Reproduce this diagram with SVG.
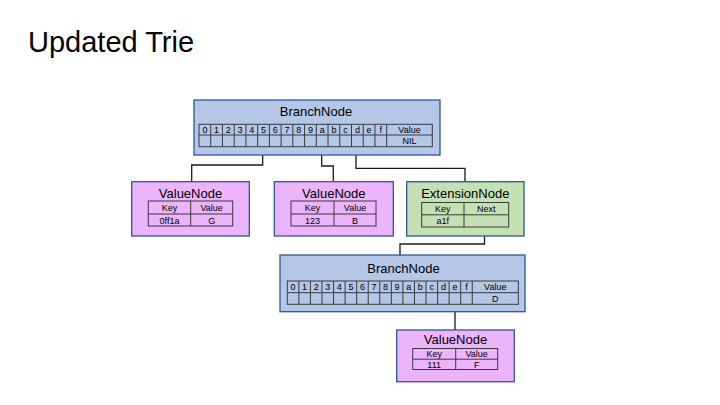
<svg xmlns="http://www.w3.org/2000/svg" width="720" height="405" viewBox="0 0 720 405">
<style>
  text { font-family: "Liberation Sans", Arial, sans-serif; fill: #000; }
  .title { font-size: 29px; }
  .ntitle { font-size: 13px; text-anchor: middle; }
  .cell { font-size: 9px; text-anchor: middle; }
  .branch { fill: #b4c7e7; stroke: #2f5597; stroke-width: 1.3; }
  .value { fill: #ebb4fc; stroke: #2f5597; stroke-width: 1.3; }
  .ext { fill: #c5e0b4; stroke: #2f5597; stroke-width: 1.3; }
  .grid { fill: none; stroke: #3a3a3a; stroke-width: 1; }
  .conn { fill: none; stroke: #1a1a1a; stroke-width: 1.3; }
</style>
<rect width="720" height="405" fill="#ffffff"/>
<text class="title" x="28" y="52">Updated Trie</text>

<g id="connectors">
  <path class="conn" d="M262.7 141 V165 H191.7 V181.7"/>
  <path class="conn" d="M321.7 141 V166 H333.3 V181.7"/>
  <path class="conn" d="M356 141 V168.3 H465 V181.7"/>
  <path class="conn" d="M484.5 221 V244 H400 V255"/>
  <path class="conn" d="M455 300 V330"/>
</g>

<g id="branch1">
  <rect class="branch" x="194" y="100" width="246" height="55"/>
  <text class="ntitle" x="316" y="116">BranchNode</text>
  <rect class="grid" x="199" y="124.3" width="233.3" height="22.4"/>
  <path class="grid" d="M199 135 H432.3 M210.73 124.3 V146.7 M222.46 124.3 V146.7 M234.19 124.3 V146.7 M245.92 124.3 V146.7 M257.65 124.3 V146.7 M269.38 124.3 V146.7 M281.11 124.3 V146.7 M292.84 124.3 V146.7 M304.57 124.3 V146.7 M316.3 124.3 V146.7 M328.03 124.3 V146.7 M339.76 124.3 V146.7 M351.49 124.3 V146.7 M363.22 124.3 V146.7 M374.95 124.3 V146.7 M386.68 124.3 V146.7"/>
  <g class="cell">
    <text class="cell" x="204.9" y="132.7">0</text>
    <text class="cell" x="216.6" y="132.7">1</text>
    <text class="cell" x="228.3" y="132.7">2</text>
    <text class="cell" x="240.1" y="132.7">3</text>
    <text class="cell" x="251.8" y="132.7">4</text>
    <text class="cell" x="263.5" y="132.7">5</text>
    <text class="cell" x="275.2" y="132.7">6</text>
    <text class="cell" x="287.0" y="132.7">7</text>
    <text class="cell" x="298.7" y="132.7">8</text>
    <text class="cell" x="310.4" y="132.7">9</text>
    <text class="cell" x="322.2" y="132.7">a</text>
    <text class="cell" x="333.9" y="132.7">b</text>
    <text class="cell" x="345.6" y="132.7">c</text>
    <text class="cell" x="357.4" y="132.7">d</text>
    <text class="cell" x="369.1" y="132.7">e</text>
    <text class="cell" x="380.8" y="132.7">f</text>
    <text class="cell" x="409.5" y="132.7">Value</text>
    <text class="cell" x="409.5" y="144.2">NIL</text>
  </g>
</g>

<g id="value1">
  <rect class="value" x="131.7" y="181.7" width="117.6" height="54.3"/>
  <text class="ntitle" x="190.5" y="198">ValueNode</text>
  <rect class="grid" x="148.3" y="201" width="84.4" height="25"/>
  <path class="grid" d="M148.3 214 H232.7 M190.7 201 V226"/>
  <text class="cell" x="169.5" y="211">Key</text>
  <text class="cell" x="211.7" y="211">Value</text>
  <text class="cell" x="169.5" y="223.5">0ff1a</text>
  <text class="cell" x="211.7" y="223.5">G</text>
</g>

<g id="value2">
  <rect class="value" x="274.3" y="181.7" width="119" height="54.3"/>
  <text class="ntitle" x="333.8" y="198">ValueNode</text>
  <rect class="grid" x="291" y="201" width="85" height="25"/>
  <path class="grid" d="M291 214 H376 M334 201 V226"/>
  <text class="cell" x="312.5" y="211">Key</text>
  <text class="cell" x="355" y="211">Value</text>
  <text class="cell" x="312.5" y="223.5">123</text>
  <text class="cell" x="355" y="223.5">B</text>
</g>

<g id="extension">
  <rect class="ext" x="406.7" y="181.7" width="117.3" height="54.3"/>
  <text class="ntitle" x="465.3" y="198">ExtensionNode</text>
  <rect class="grid" x="421.7" y="202.5" width="87" height="24.5"/>
  <path class="grid" d="M421.7 214.8 H508.7 M464 202.5 V227"/>
  <text class="cell" x="442.8" y="212.3">Key</text>
  <text class="cell" x="486.3" y="212.3">Next</text>
  <text class="cell" x="442.8" y="224.2">a1f</text>
</g>

<g id="branch2">
  <rect class="branch" x="280" y="255" width="245" height="56.7"/>
  <text class="ntitle" x="403.5" y="272.7">BranchNode</text>
  <rect class="grid" x="287.3" y="281" width="231" height="23.3"/>
  <path class="grid" d="M287.3 292.7 H518.3 M298.86 281 V304.3 M310.42 281 V304.3 M321.98 281 V304.3 M333.54 281 V304.3 M345.1 281 V304.3 M356.66 281 V304.3 M368.22 281 V304.3 M379.78 281 V304.3 M391.34 281 V304.3 M402.9 281 V304.3 M414.46 281 V304.3 M426.02 281 V304.3 M437.58 281 V304.3 M449.14 281 V304.3 M460.7 281 V304.3 M472.26 281 V304.3"/>
  <text class="cell" x="293.1" y="290.2">0</text>
  <text class="cell" x="304.6" y="290.2">1</text>
  <text class="cell" x="316.2" y="290.2">2</text>
  <text class="cell" x="327.8" y="290.2">3</text>
  <text class="cell" x="339.3" y="290.2">4</text>
  <text class="cell" x="350.9" y="290.2">5</text>
  <text class="cell" x="362.4" y="290.2">6</text>
  <text class="cell" x="374.0" y="290.2">7</text>
  <text class="cell" x="385.6" y="290.2">8</text>
  <text class="cell" x="397.1" y="290.2">9</text>
  <text class="cell" x="408.7" y="290.2">a</text>
  <text class="cell" x="420.2" y="290.2">b</text>
  <text class="cell" x="431.8" y="290.2">c</text>
  <text class="cell" x="443.4" y="290.2">d</text>
  <text class="cell" x="454.9" y="290.2">e</text>
  <text class="cell" x="466.5" y="290.2">f</text>
  <text class="cell" x="495.3" y="290.2">Value</text>
  <text class="cell" x="495.3" y="301.8">D</text>
</g>

<g id="value3">
  <rect class="value" x="396.7" y="330" width="117.6" height="51.7"/>
  <text class="ntitle" x="455.5" y="344">ValueNode</text>
  <rect class="grid" x="412.7" y="348.5" width="85" height="21"/>
  <path class="grid" d="M412.7 359.2 H497.7 M455.7 348.5 V369.5"/>
  <text class="cell" x="434.2" y="357.4">Key</text>
  <text class="cell" x="476.7" y="357.4">Value</text>
  <text class="cell" x="434.2" y="367.8">111</text>
  <text class="cell" x="476.7" y="367.8">F</text>
</g>
</svg>
